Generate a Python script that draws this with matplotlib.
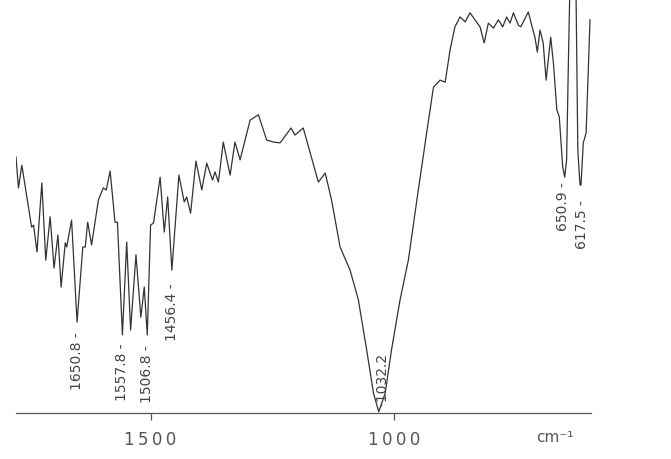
import matplotlib.pyplot as plt
import numpy as np

# IR spectrum (wavenumber cm-1, transmittance %)
wavenumber = [1776, 1771, 1764, 1744, 1740, 1733, 1723, 1715, 1706, 1698,
              1690, 1683.5, 1675, 1672, 1662, 1650.8, 1639, 1634, 1629, 1621,
              1607, 1597, 1591, 1583, 1573, 1568, 1557.8, 1549, 1541, 1530,
              1520, 1513, 1506.8, 1500, 1494, 1480.5, 1472, 1465, 1456.4, 1442,
              1431, 1426, 1418, 1407, 1395, 1385, 1373, 1368, 1361, 1351,
              1337, 1327, 1316.5, 1296, 1279, 1262, 1248, 1234.5, 1212, 1204,
              1187, 1156, 1142, 1129, 1111.5, 1091, 1074, 1057, 1043, 1032.2,
              1019, 1006, 988.5, 971.5, 954, 934, 920, 906.5, 896, 886,
              876, 865.5, 855, 845, 835, 824.5, 816, 807.5, 797, 787,
              778, 770, 763, 756, 746, 741, 732, 725.5, 718.6, 712,
              707, 701.5, 695, 689, 679.6, 674, 667, 662, 655, 650.9,
              647, 643.5, 640, 628, 624, 619.5, 617.5, 612.8, 607, 599]
transmittance = [62.0, 54.5, 60.0, 45.0, 45.5, 39.0, 55.7, 37.0, 47.5, 35.1,
                 43.1, 30.5, 41.2, 40.2, 46.7, 22.0, 40.2, 40.2, 46.2, 40.7,
                 51.6, 54.5, 54.0, 58.6, 46.2, 46.2, 18.9, 41.4, 20.1, 38.3,
                 23.2, 30.5, 18.9, 45.5, 46.0, 57.1, 43.8, 52.3, 34.6, 57.6,
                 51.1, 52.3, 48.4, 61.0, 54.0, 60.5, 56.4, 58.4, 55.9, 65.6,
                 57.6, 65.6, 61.3, 70.9, 72.2, 66.1, 65.6, 65.4, 69.0, 67.3,
                 69.0, 55.9, 58.1, 51.6, 40.2, 34.6, 27.4, 15.3, 4.8, 0.3,
                 4.8, 15.3, 27.4, 37.0, 51.6, 67.8, 78.9, 80.6, 80.1, 87.9,
                 93.5, 95.9, 94.7, 96.9, 95.2, 93.5, 89.6, 94.4, 93.2, 95.2,
                 93.5, 95.9, 94.4, 96.9, 93.9, 93.5, 95.6, 97.1, 93.9, 91.0,
                 87.4, 92.7, 89.6, 80.6, 91.0, 84.7, 73.4, 71.7, 59.6, 57.1,
                 61.3, 83.8, 105, 105, 63.7, 55.2, 55.2, 65.4, 67.8, 95.2]

# peak labels: (label, x, top of text)
peak_labels = ["1650.8 -", "1557.8 -", "1506.8 -", "1456.4 -", "-1032.2", "650.9 -", "617.5 -"]
peak_x = [1650.8, 1557.8, 1506.8, 1456.4, 1024, 654.4, 615.5]
peak_top = [19.6, 16.9, 16.5, 31.5, 14.5, 55.9, 51.6]

fig = plt.figure(figsize=(6.71, 4.59), dpi=100)
ax = fig.add_axes([16 / 671, 46 / 459, 574.5 / 671, 413 / 459])

ax.plot(wavenumber, transmittance, color='#333333', linewidth=0.9)

for lab, x, top in zip(peak_labels, peak_x, peak_top):
    ax.text(x, top, lab, rotation=90, ha='center', va='top',
            fontsize=10, color='#444444')

ax.set_xlim(1776, 598)
ax.set_ylim(0, 100)

for side in ['top', 'left', 'right']:
    ax.spines[side].set_visible(False)
ax.spines['bottom'].set_color('#555555')
ax.spines['bottom'].set_linewidth(0.9)
ax.set_yticks([])
ax.set_xticks([1500, 1000])
ax.set_xticklabels(['1 5 0 0'.replace(' ', '\u2009'), '1\u20090\u20090\u20090'])
ax.tick_params(axis='x', direction='out', length=5, width=0.9, color='#555555',
               labelsize=12, labelcolor='#555555', pad=8)

fig.text(555 / 671, 1 - 438 / 459, 'cm\u207b\u00b9', ha='center', va='center',
         fontsize=11, color='#555555')

fig.savefig('out.png', dpi=100)
